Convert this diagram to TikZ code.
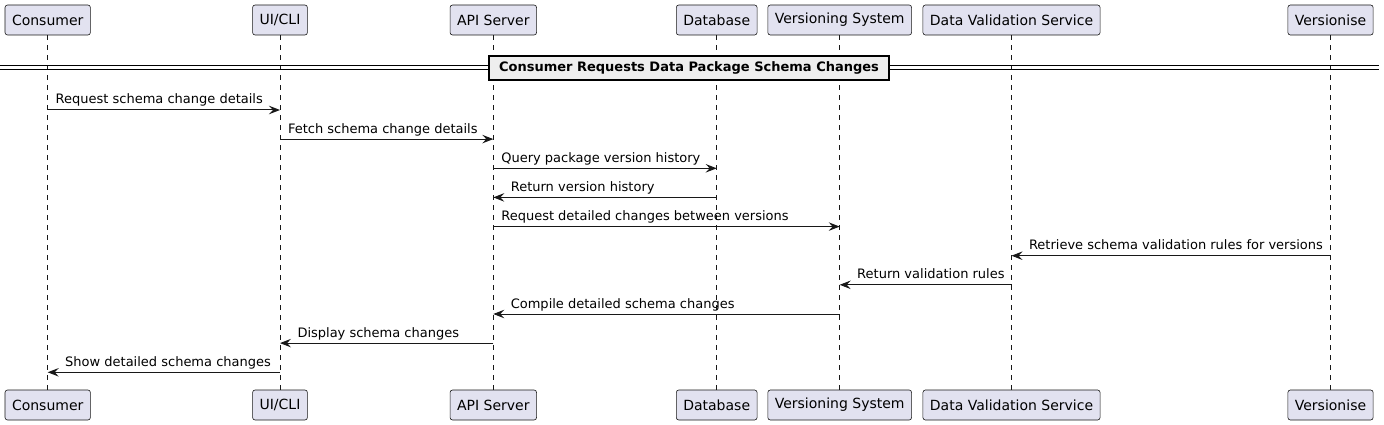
\documentclass[tikz,border=0pt]{standalone}
\usepackage{fontspec}
\setmainfont{DejaVu Sans}
\usetikzlibrary{arrows.meta}
\definecolor{partfill}{HTML}{E2E2F0}
\definecolor{ink}{HTML}{181818}
\definecolor{divfill}{HTML}{EEEEEE}
\begin{document}
\begin{tikzpicture}[x=1pt,y=-1pt,
  part/.style={draw=ink, fill=partfill, rounded corners=2.5pt, line width=0.6pt,
    minimum height=30pt, inner xsep=7pt, inner ysep=0pt, font=\fontsize{14}{16}\selectfont},
  lifeline/.style={draw=ink, line width=0.5pt, dash pattern=on 5pt off 5pt},
  msg/.style={draw=ink, line width=1pt, -{Stealth[length=11pt,width=8.5pt,inset=4pt]}},
  lblr/.style={anchor=base west, inner sep=0pt, xshift=7.5pt, yshift=6pt, font=\fontsize{13}{15}\selectfont},
  lbll/.style={anchor=base west, inner sep=0pt, xshift=17pt, yshift=6pt, font=\fontsize{13}{15}\selectfont},
  divbox/.style={draw=black, fill=divfill, line width=2pt, minimum width=400pt, minimum height=24pt,
    inner sep=0pt, font=\fontsize{13}{15}\selectfont\bfseries},
  divline/.style={draw=black, line width=1.2pt}
]
\useasboundingbox (0,0) rectangle (1384,425);

% participants (top)
\node[part] (cT) at (47.7,20) {Consumer};
\node[part] (uT) at (280,20) {UI/CLI};
\node[part] (aT) at (493.3,20) {API Server};
\node[part] (dT) at (716.7,20) {Database};
\node[part] (vT) at (839.7,20) {Versioning System};
\node[part] (sT) at (1011.5,20) {Data Validation Service};
\node[part] (rT) at (1330.5,20) {Versionise};
% participants (bottom)
\node[part] (cB) at (47.7,405) {Consumer};
\node[part] (uB) at (280,405) {UI/CLI};
\node[part] (aB) at (493.3,405) {API Server};
\node[part] (dB) at (716.7,405) {Database};
\node[part] (vB) at (839.7,405) {Versioning System};
\node[part] (sB) at (1011.5,405) {Data Validation Service};
\node[part] (rB) at (1330.5,405) {Versionise};

% lifelines
\foreach \p in {c,u,a,d,v,s,r}{
  \draw[lifeline] (\p T.south) -- (\p B.north);
}

% divider
\coordinate (dl) at (0,67.5);
\coordinate (dr) at (1379,67.5);
\draw[divline] ([yshift=2pt]dl) -- ([yshift=2pt]dr);
\draw[divline] ([yshift=-2pt]dl) -- ([yshift=-2pt]dr);
\node[divbox] (div) at (689,68) {Consumer Requests Data Package Schema Changes};

% message rows
\foreach \i/\y in {1/110,2/139.1,3/168.3,4/197.4,5/226.6,6/255.7,7/284.8,8/314,9/343.1,10/372.3}{
  \coordinate (r\i) at (0,\y);
}

\draw[msg] (cT |- r1) -- (uT |- r1) node[pos=0,lblr] {Request schema change details};
\draw[msg] (uT |- r2) -- (aT |- r2) node[pos=0,lblr] {Fetch schema change details};
\draw[msg] (aT |- r3) -- (dT |- r3) node[pos=0,lblr] {Query package version history};
\draw[msg] (dT |- r4) -- (aT |- r4) node[pos=1,lbll] {Return version history};
\draw[msg] (aT |- r5) -- (vT |- r5) node[pos=0,lblr] {Request detailed changes between versions};
\draw[msg] (rT |- r6) -- (sT |- r6) node[pos=1,lbll] {Retrieve schema validation rules for versions};
\draw[msg] (sT |- r7) -- (vT |- r7) node[pos=1,lbll] {Return validation rules};
\draw[msg] (vT |- r8) -- (aT |- r8) node[pos=1,lbll] {Compile detailed schema changes};
\draw[msg] (aT |- r9) -- (uT |- r9) node[pos=1,lbll] {Display schema changes};
\draw[msg] (uT |- r10) -- (cT |- r10) node[pos=1,lbll] {Show detailed schema changes};
\end{tikzpicture}
\end{document}
